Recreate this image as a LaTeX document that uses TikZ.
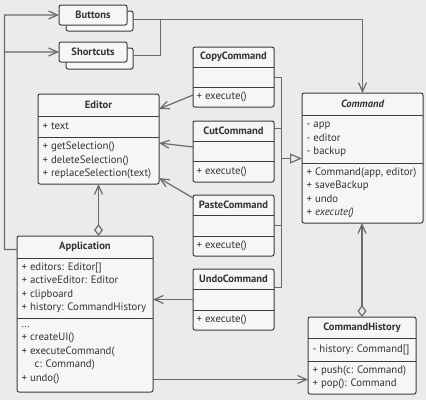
\documentclass[tikz,border=0pt]{standalone}
\usepackage{fontspec}
\setmainfont{PT Sans}
\usetikzlibrary{arrows.meta}
\definecolor{bgc}{HTML}{EBEBEB}
\definecolor{boxf}{HTML}{F6F6F6}
\definecolor{boxd}{HTML}{3C3C3C}
\definecolor{linec}{HTML}{6A6A6A}
\definecolor{txt}{HTML}{333333}
\tikzset{
  box/.style={draw=boxd, fill=boxf, line width=1bp, rounded corners=2bp, inner sep=0pt, outer sep=0pt, anchor=north west},
  sepline/.style={draw=boxd, line width=1bp},
  hdr/.style={font=\fontsize{10.6}{12}\selectfont\bfseries, text=txt, inner sep=0pt},
  body/.style={font=\fontsize{10.8}{13.5}\selectfont, text=txt, align=left, inner sep=0pt, anchor=west},
  conn/.style={draw=linec, line width=1.2bp},
  assoc/.style={conn, -{Straight Barb[length=9bp,width=8bp]}},
  aggr/.style={conn, {Diamond[open,length=12bp,width=9bp]}-{Straight Barb[length=9bp,width=8bp]}},
  inherit/.style={conn, -{Triangle[open,length=12bp,width=10bp]}}
}
\begin{document}
\begin{tikzpicture}[x=1bp,y=1bp]
\fill[bgc] (0,0) rectangle (426,-400);
\useasboundingbox (0,0) rectangle (426,-400);

% Buttons / Shortcuts (stacked)
\node[box, minimum width=67bp, minimum height=20bp] (buttonsB) at (66,-11) {};
\node[box, minimum width=68bp, minimum height=20bp, font=\fontsize{10.6}{12}\selectfont\bfseries, text=txt] (buttons) at (59,-5) {Buttons};
\node[box, minimum width=67bp, minimum height=21bp] (shortcutsB) at (66,-48) {};
\node[box, minimum width=68bp, minimum height=20bp, font=\fontsize{10.6}{12}\selectfont\bfseries, text=txt] (shortcuts) at (59,-42) {Shortcuts};

% Editor
\node[box, minimum width=121bp, minimum height=90bp] (editor) at (38,-94) {};
\draw[sepline] (editor.west |- 0,-116) -- (editor.east |- 0,-116);
\draw[sepline] (editor.west |- 0,-137) -- (editor.east |- 0,-137);
\node[hdr] (editorT) at (editor.north |- 0,-105) {Editor};
\node[body] (editorA) at (42.5,-126.5) {+ text};
\node[body] (editorM) at (42.5,-160.5) {+ getSelection()\\+ deleteSelection()\\+ replaceSelection(text)};

% Command
\node[box, minimum width=121bp, minimum height=130bp] (command) at (302,-93) {};
\draw[sepline] (command.west |- 0,-115) -- (command.east |- 0,-115);
\draw[sepline] (command.west |- 0,-163) -- (command.east |- 0,-163);
\node[hdr, font=\fontsize{10.6}{12}\selectfont\bfseries\itshape] (commandT) at (command.north |- 0,-104) {Command};
\node[body] (commandA) at (306.5,-139.5) {- app\\- editor\\- backup};
\node[body] (commandM) at (306.5,-193) {+ Command(app, editor)\\+ saveBackup\\+ undo\\+ \textit{execute()}};

% CopyCommand
\node[box, minimum width=81bp, minimum height=60bp] (copy) at (193,-47) {};
\draw[sepline] (copy.west |- 0,-67) -- (copy.east |- 0,-67);
\draw[sepline] (copy.west |- 0,-87) -- (copy.east |- 0,-87);
\node[hdr] (copyT) at (copy.north |- 0,-57) {CopyCommand};
\node[body] (copyM) at (196.5,-97) {+ execute()};

% CutCommand
\node[box, minimum width=81bp, minimum height=61bp] (cut) at (193,-121) {};
\draw[sepline] (cut.west |- 0,-141) -- (cut.east |- 0,-141);
\draw[sepline] (cut.west |- 0,-161) -- (cut.east |- 0,-161);
\node[hdr] (cutT) at (cut.north |- 0,-131) {CutCommand};
\node[body] (cutM) at (196.5,-171.5) {+ execute()};

% PasteCommand
\node[box, minimum width=81bp, minimum height=61bp] (paste) at (193,-195) {};
\draw[sepline] (paste.west |- 0,-215) -- (paste.east |- 0,-215);
\draw[sepline] (paste.west |- 0,-236) -- (paste.east |- 0,-236);
\node[hdr] (pasteT) at (paste.north |- 0,-205) {PasteCommand};
\node[body] (pasteM) at (196.5,-246) {+ execute()};

% UndoCommand
\node[box, minimum width=81bp, minimum height=61bp] (undo) at (193,-269) {};
\draw[sepline] (undo.west |- 0,-289) -- (undo.east |- 0,-289);
\draw[sepline] (undo.west |- 0,-310) -- (undo.east |- 0,-310);
\node[hdr] (undoT) at (undo.north |- 0,-279) {UndoCommand};
\node[body] (undoM) at (196.5,-320) {+ execute()};

% Application
\node[box, minimum width=136bp, minimum height=156bp] (app) at (17,-236) {};
\draw[sepline] (app.west |- 0,-258) -- (app.east |- 0,-258);
\draw[sepline] (app.west |- 0,-318) -- (app.east |- 0,-318);
\node[hdr] (appT) at (app.north |- 0,-247) {Application};
\node[body] (appA) at (21.5,-288) {+ editors: Editor[]\\+ activeEditor: Editor\\+ clipboard\\+ history: CommandHistory};
\node[body] (appM) at (21.5,-355) {...\\+ createUI()\\+ executeCommand(\\\hspace*{13bp}c: Command)\\+ undo()};

% CommandHistory
\node[box, minimum width=108bp, minimum height=77bp] (ch) at (308,-317) {};
\draw[sepline] (ch.west |- 0,-338) -- (ch.east |- 0,-338);
\draw[sepline] (ch.west |- 0,-361) -- (ch.east |- 0,-361);
\node[hdr] (chT) at (ch.north |- 0,-327.5) {CommandHistory};
\node[body] (chA) at (312.5,-349.5) {- history: Command[]};
\node[body] (chM) at (312.5,-377.5) {+ push(c: Command)\\+ pop(): Command};

% Connectors
\draw[assoc] (app.west |- 0,-249.5) -- (4.5,-249.5) -- (4.5,-15) -- (buttons.west);
\draw[assoc] (4.5,-52) -- (shortcuts.west);
\draw[assoc] (buttonsB.east |- 0,-19.5) -| (command.north);
\draw[conn] (shortcutsB.east |- 0,-55.5) -- (160.5,-55.5) -- (160.5,-20);

\draw[assoc] (copy.west |- 0,-95) -- (editor.east |- 0,-109);
\draw[assoc] (cut.west |- 0,-147) -- (editor.east |- 0,-143);
\draw[assoc] (paste.west |- 0,-198) -- (editor.east |- 0,-178);
\draw[assoc] (undo.west |- 0,-299.5) -- (app.east |- 0,-299.5);
\draw[assoc] (app.east |- 0,-379.5) -- (ch.west |- 0,-379.5);

\draw[aggr] (editor.south |- app.north) -- (editor.south);
\draw[aggr] (ch.north) -- (command.south -| ch.north);

\draw[conn] (copy.east |- 0,-77.5) -| (281.5,-287.5) -- (undo.east |- 0,-287.5);
\draw[conn] (cut.east |- 0,-128.5) -- (281.5,-128.5);
\draw[conn] (paste.east |- 0,-225.5) -- (281.5,-225.5);
\draw[inherit] (281.5,-158.5) -- (command.west |- 0,-158.5);
\end{tikzpicture}
\end{document}
